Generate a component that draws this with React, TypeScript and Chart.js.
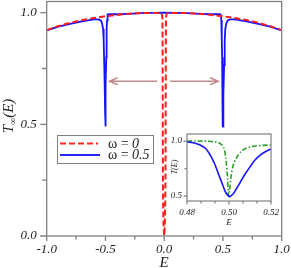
import React, { useEffect, useRef } from 'react';
import { Chart, registerables } from 'chart.js';
Chart.register(...registerables);

const FONT = "'Liberation Serif', 'Times New Roman', serif";

// ---- main chart data ----
const redE = [-1, -0.9, -0.8, -0.7, -0.6, -0.5, -0.4, -0.3, -0.2, -0.1, -0.03, -0.022, -0.017, -0.015, -0.014, -0.013, -0.012, -0.011, -0.009, -0.005, 0, 0.005, 0.009, 0.011, 0.012, 0.013, 0.014, 0.015, 0.017, 0.022, 0.03, 0.1, 0.2, 0.3, 0.4, 0.5, 0.6, 0.7, 0.8, 0.9, 1];
const redT = [0.922, 0.94, 0.955, 0.967, 0.976, 0.984, 0.99, 0.995, 0.998, 0.999, 0.999, 0.995, 0.985, 0.965, 0.9, 0.7, 0.45, 0.3, 0.15, 0.04, 0, 0.04, 0.15, 0.3, 0.45, 0.7, 0.9, 0.965, 0.985, 0.995, 0.999, 0.999, 0.998, 0.995, 0.99, 0.984, 0.976, 0.967, 0.955, 0.94, 0.922];

const blueE = [-1, -0.9, -0.8, -0.7, -0.6, -0.56, -0.54, -0.53, -0.52, -0.515, -0.51, -0.505, -0.5035, -0.502, -0.5005, -0.5, -0.4985, -0.497, -0.4955, -0.493, -0.491, -0.489, -0.486, -0.483, -0.48, -0.47, -0.4, -0.3, -0.2, -0.1, 0, 0.1, 0.2, 0.3, 0.4, 0.47, 0.48, 0.483, 0.486, 0.489, 0.491, 0.493, 0.4955, 0.497, 0.4985, 0.5, 0.5005, 0.502, 0.5035, 0.505, 0.51, 0.515, 0.52, 0.53, 0.54, 0.56, 0.6, 0.7, 0.8, 0.9, 1];
const blueT = [0.921, 0.937, 0.95, 0.961, 0.97, 0.97, 0.965, 0.955, 0.927, 0.875, 0.765, 0.63, 0.565, 0.52, 0.49, 0.492, 0.53, 0.6, 0.675, 0.8, 0.875, 0.93, 0.966, 0.985, 0.992, 0.993, 0.993, 0.995, 0.998, 0.999, 1.0, 0.999, 0.998, 0.995, 0.993, 0.993, 0.992, 0.985, 0.966, 0.93, 0.875, 0.8, 0.675, 0.6, 0.53, 0.492, 0.49, 0.52, 0.565, 0.63, 0.765, 0.875, 0.927, 0.955, 0.965, 0.97, 0.97, 0.961, 0.95, 0.937, 0.921];

const xTicks = [-1, -0.5, 0, 0.5, 1];
const xMinor = [-0.75, -0.25, 0.25, 0.75];
const yTicks = [0, 0.5, 1.0];
const yMinor = [0.25, 0.75];

// arrows (annotation)
const arrowFrom = [-0.06, 0.05];
const arrowTo = [-0.465, 0.46];
const arrowLevel = 0.693;

const legendLabels = ['0', '0.5'];

// ---- inset data ----
const insetBlueE = [0.48, 0.483, 0.486, 0.489, 0.491, 0.493, 0.4955, 0.497, 0.4985, 0.5, 0.5005, 0.502, 0.5035, 0.5052, 0.507, 0.51, 0.5125, 0.515, 0.5175, 0.52];
const insetBlueT = [0.992, 0.985, 0.966, 0.93, 0.875, 0.8, 0.675, 0.6, 0.53, 0.497, 0.495, 0.52, 0.565, 0.62, 0.68, 0.765, 0.83, 0.875, 0.905, 0.927];
const insetGreenE = [0.48, 0.485, 0.49, 0.494, 0.496, 0.4975, 0.4985, 0.4993, 0.4998, 0.5003, 0.501, 0.502, 0.5036, 0.5055, 0.5076, 0.51, 0.5124, 0.516, 0.52];
const insetGreenT = [1.0, 1.0, 0.998, 0.99, 0.975, 0.94, 0.84, 0.66, 0.5, 0.56, 0.68, 0.78, 0.85, 0.9, 0.93, 0.946, 0.955, 0.961, 0.964];
const insetXTicks = [0.48, 0.5, 0.52];
const insetXMinor = [0.4867, 0.4933, 0.5067, 0.5133];
const insetYTicks = [0.5, 1.0];
const insetYMinor = [0.75];

const AXIS = '#808080';
const TEXT = '#222';

const pts = (xs: number[], ys: number[]) => xs.map((x, i) => ({ x, y: ys[i] }));

const zeroPad = (s: any) => { s.paddingTop = 0; s.paddingBottom = 0; s.paddingLeft = 0; s.paddingRight = 0; };

const mainDecor = {
  id: 'mainDecor',
  afterDraw(chart: any) {
    const { ctx, chartArea: a, scales } = chart;
    const x = scales.x, y = scales.y;
    ctx.save();
    // frame
    ctx.strokeStyle = AXIS;
    ctx.lineWidth = 1.3;
    ctx.strokeRect(a.left, a.top, a.right - a.left, a.bottom - a.top);
    // ticks
    ctx.beginPath();
    xTicks.forEach((v) => { const px = x.getPixelForValue(v); ctx.moveTo(px, a.bottom); ctx.lineTo(px, a.bottom + 5); });
    xMinor.forEach((v) => { const px = x.getPixelForValue(v); ctx.moveTo(px, a.bottom); ctx.lineTo(px, a.bottom + 3.5); });
    yTicks.forEach((v) => { const py = y.getPixelForValue(v); ctx.moveTo(a.left, py); ctx.lineTo(a.left - 6.5, py); });
    yMinor.forEach((v) => { const py = y.getPixelForValue(v); ctx.moveTo(a.left, py); ctx.lineTo(a.left - 4.5, py); });
    ctx.stroke();

    // arrows
    ctx.strokeStyle = 'rgb(192,140,140)';
    ctx.lineWidth = 1.5;
    const ay = y.getPixelForValue(arrowLevel);
    arrowFrom.forEach((f, i) => {
      const x1 = x.getPixelForValue(f), x2 = x.getPixelForValue(arrowTo[i]);
      const dir = x2 > x1 ? 1 : -1;
      ctx.beginPath();
      ctx.moveTo(x1, ay); ctx.lineTo(x2, ay);
      ctx.moveTo(x2 - dir * 8, ay - 3.5); ctx.lineTo(x2, ay); ctx.lineTo(x2 - dir * 8, ay + 3.5);
      ctx.stroke();
    });

    // legend
    const lx = 57.5, ly = 135.5, lw = 96, lh = 28;
    ctx.fillStyle = '#fff';
    ctx.fillRect(lx, ly, lw, lh);
    ctx.strokeStyle = AXIS;
    ctx.lineWidth = 1;
    ctx.strokeRect(lx, ly, lw, lh);
    const rows = [143.5, 155];
    ctx.lineWidth = 2;
    ctx.strokeStyle = 'rgb(255,40,40)';
    ctx.setLineDash([6, 3]);
    ctx.beginPath(); ctx.moveTo(60, rows[0]); ctx.lineTo(98, rows[0]); ctx.stroke();
    ctx.setLineDash([]);
    ctx.strokeStyle = 'rgb(40,40,255)';
    ctx.beginPath(); ctx.moveTo(60, rows[1]); ctx.lineTo(100, rows[1]); ctx.stroke();
    ctx.fillStyle = TEXT;
    ctx.textBaseline = 'middle';
    ctx.textAlign = 'left';
    legendLabels.forEach((lab, i) => {
      ctx.font = `14px ${FONT}`;
      const pre = 'ω = ';
      ctx.fillText(pre, 108, rows[i] + 0.5);
      const w = ctx.measureText(pre).width;
      ctx.font = `italic 14px ${FONT}`;
      ctx.fillText(lab, 108 + w, rows[i] + 0.5);
    });

    // x title
    ctx.font = `italic 15px ${FONT}`;
    ctx.textAlign = 'center';
    ctx.textBaseline = 'alphabetic';
    ctx.fillText('E', x.getPixelForValue(0), 267);

    // y title T∞(E)
    ctx.translate(13, 116);
    ctx.rotate(-Math.PI / 2);
    ctx.textAlign = 'left';
    ctx.font = `italic 15px ${FONT}`;
    const wT = ctx.measureText('T').width;
    ctx.font = `10px ${FONT}`;
    const wInf = ctx.measureText('∞').width;
    ctx.font = `italic 15px ${FONT}`;
    const wE = ctx.measureText('(E)').width;
    const total = wT + wInf + wE;
    let cx = -total / 2;
    ctx.fillText('T', cx, 0);
    cx += wT;
    ctx.font = `10px ${FONT}`;
    ctx.fillText('∞', cx, 3);
    cx += wInf;
    ctx.font = `italic 15px ${FONT}`;
    ctx.fillText('(E)', cx, 0);
    ctx.restore();
  },
};

const insetDecor = {
  id: 'insetDecor',
  beforeDatasetsDraw(chart: any) {
    const { ctx, chartArea: a } = chart;
    ctx.save();
    ctx.fillStyle = '#fff';
    ctx.fillRect(a.left, a.top, a.right - a.left, a.bottom - a.top);
    ctx.restore();
  },
  afterDraw(chart: any) {
    const { ctx, chartArea: a, scales } = chart;
    const x = scales.x, y = scales.y;
    ctx.save();
    ctx.strokeStyle = AXIS;
    ctx.lineWidth = 1.2;
    ctx.strokeRect(a.left, a.top, a.right - a.left, a.bottom - a.top);
    ctx.beginPath();
    insetXTicks.forEach((v) => { const px = x.getPixelForValue(v); ctx.moveTo(px, a.bottom); ctx.lineTo(px, a.bottom + 3.5); });
    insetXMinor.forEach((v) => { const px = x.getPixelForValue(v); ctx.moveTo(px, a.bottom); ctx.lineTo(px, a.bottom + 2.5); });
    insetYTicks.forEach((v) => { const py = y.getPixelForValue(v); ctx.moveTo(a.left, py); ctx.lineTo(a.left - 3.5, py); });
    insetYMinor.forEach((v) => { const py = y.getPixelForValue(v); ctx.moveTo(a.left, py); ctx.lineTo(a.left - 2.5, py); });
    ctx.stroke();
    ctx.fillStyle = TEXT;
    ctx.font = `italic 9px ${FONT}`;
    ctx.textAlign = 'center';
    ctx.textBaseline = 'middle';
    ctx.fillText('E', x.getPixelForValue(0.5), 95);
    ctx.translate(15, 39);
    ctx.rotate(-Math.PI / 2);
    ctx.font = `italic 8px ${FONT}`;
    ctx.fillText('T(E)', 0, 0);
    ctx.restore();
  },
};

export default function App() {
  const mainRef = useRef<HTMLCanvasElement>(null);
  const insetRef = useRef<HTMLCanvasElement>(null);

  useEffect(() => {
    const tickFont = { family: FONT, style: 'italic' as const, size: 13 };
    const main = new Chart(mainRef.current as HTMLCanvasElement, {
      type: 'line',
      data: {
        datasets: [
          { label: 'ω = 0', data: pts(redE, redT), borderColor: 'rgb(255,30,30)', borderWidth: 2, borderDash: [6, 3], pointRadius: 0, fill: false },
          { label: 'ω = 0.5', data: pts(blueE, blueT), borderColor: 'rgb(20,20,255)', borderWidth: 1.8, pointRadius: 0, fill: false },
        ],
      },
      options: {
        responsive: false,
        animation: false,
        devicePixelRatio: 1,
        layout: { padding: { top: 1.5, right: 9.3, left: 0, bottom: 0 } },
        plugins: { legend: { display: false }, tooltip: { enabled: false } },
        elements: { line: { tension: 0 } },
        scales: {
          x: {
            type: 'linear', min: -1, max: 1,
            afterBuildTicks: (s: any) => { s.ticks = xTicks.map((v) => ({ value: v })); },
            afterFit: (s: any) => { s.height = 32; zeroPad(s); },
            grid: { display: false, drawTicks: false },
            border: { display: false },
            ticks: { padding: 6, autoSkip: false, maxRotation: 0, font: tickFont, color: TEXT, callback: (v: any) => Number(v).toFixed(1) },
          },
          y: {
            type: 'linear', min: 0, max: 1.05,
            afterBuildTicks: (s: any) => { s.ticks = yTicks.map((v) => ({ value: v })); },
            afterFit: (s: any) => { s.width = 46.7; zeroPad(s); },
            grid: { display: false, drawTicks: false },
            border: { display: false },
            ticks: { padding: 10, autoSkip: false, font: tickFont, color: TEXT, callback: (v: any) => Number(v).toFixed(1) },
          },
        },
      },
      plugins: [mainDecor],
    });

    const insetFont = { family: FONT, style: 'italic' as const, size: 9 };
    const inset = new Chart(insetRef.current as HTMLCanvasElement, {
      type: 'line',
      data: {
        datasets: [
          { label: 'blue', data: pts(insetBlueE, insetBlueT), borderColor: 'rgb(20,20,255)', borderWidth: 1.6, pointRadius: 0, fill: false },
          { label: 'green', data: pts(insetGreenE, insetGreenT), borderColor: 'rgb(40,160,40)', borderWidth: 1.6, borderDash: [5, 2, 1.5, 2], pointRadius: 0, fill: false },
        ],
      },
      options: {
        responsive: false,
        animation: false,
        devicePixelRatio: 1,
        layout: { padding: { top: 6, right: 9, left: 0, bottom: 0 } },
        plugins: { legend: { display: false }, tooltip: { enabled: false } },
        elements: { line: { tension: 0.3 } },
        scales: {
          x: {
            type: 'linear', min: 0.48, max: 0.52,
            afterBuildTicks: (s: any) => { s.ticks = insetXTicks.map((v) => ({ value: v })); },
            afterFit: (s: any) => { s.height = 29; zeroPad(s); },
            grid: { display: false, drawTicks: false },
            border: { display: false },
            ticks: { padding: 6, autoSkip: false, maxRotation: 0, font: insetFont, color: TEXT, callback: (v: any) => Number(v).toFixed(2) },
          },
          y: {
            type: 'linear', min: 0.455, max: 1.064,
            afterBuildTicks: (s: any) => { s.ticks = insetYTicks.map((v) => ({ value: v })); },
            afterFit: (s: any) => { s.width = 27; zeroPad(s); },
            grid: { display: false, drawTicks: false },
            border: { display: false },
            ticks: { padding: 5, autoSkip: false, font: insetFont, color: TEXT, callback: (v: any) => Number(v).toFixed(1) },
          },
        },
      },
      plugins: [insetDecor],
    });

    return () => { main.destroy(); inset.destroy(); };
  }, []);

  return (
    <div style={{ position: 'absolute', left: 0, top: 0, width: 291, height: 268, background: '#fff' }}>
      <canvas ref={mainRef} width={291} height={268} style={{ position: 'absolute', left: 0, top: 0, width: 291, height: 268 }} />
      <canvas ref={insetRef} width={120} height={102} style={{ position: 'absolute', left: 160, top: 128, width: 120, height: 102 }} />
    </div>
  );
}
